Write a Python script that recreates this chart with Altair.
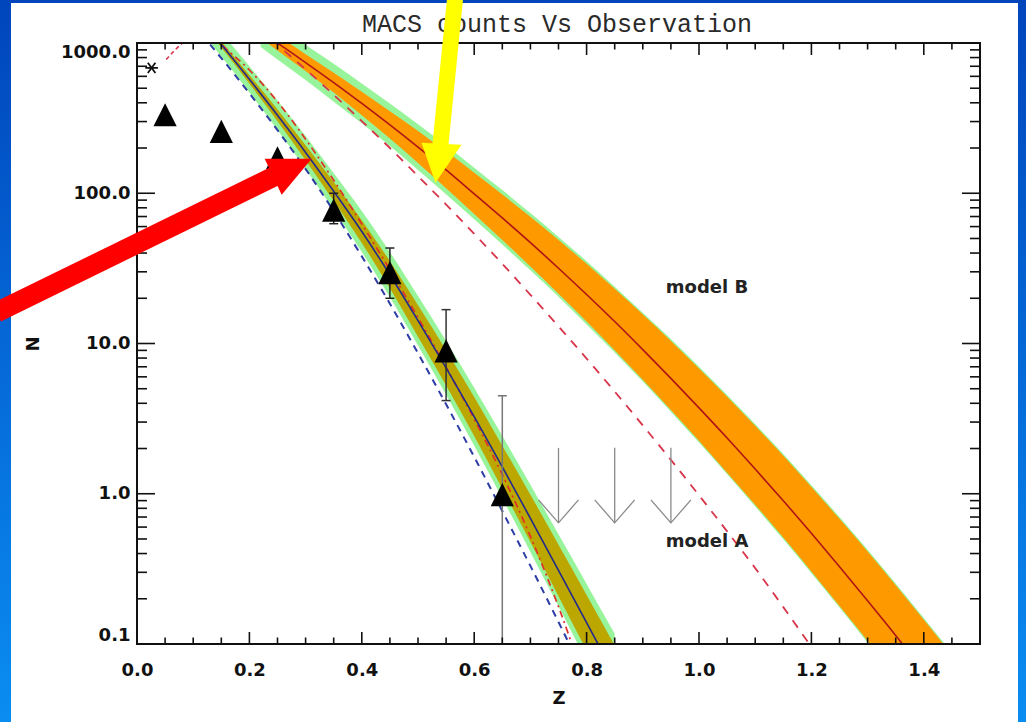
import altair as alt
import pandas as pd

# ---------------- data ----------------
# model A (lower band)
zA = [0.13, 0.15, 0.20, 0.25, 0.30, 0.35, 0.40, 0.45, 0.50, 0.55, 0.60, 0.65, 0.70, 0.75, 0.80, 0.85]
A_mid = [1202, 977, 573, 330, 187, 103, 55.6, 28.7, 14.2, 6.89, 3.26, 1.51, 0.686, 0.309, 0.139, 0.0619]
A_green_lo = [1005, 813, 468, 264, 145, 77.3, 40.6, 20.3, 9.68, 4.56, 2.09, 0.933, 0.410, 0.178, 0.0766, 0.0329]
A_green_hi = [1439, 1175, 701, 414, 240, 136, 76.2, 40.6, 20.7, 10.4, 5.08, 2.43, 1.15, 0.537, 0.251, 0.117]
A_olive_lo = [1153, 933, 536, 302, 166, 88.7, 46.7, 23.3, 11.1, 5.26, 2.42, 1.08, 0.478, 0.208, 0.0906, 0.0393]
A_olive_hi = [1253, 1023, 612, 361, 209, 119, 66.2, 35.3, 18.0, 9.02, 4.40, 2.09, 0.984, 0.458, 0.212, 0.0977]

zA2 = [0.13, 0.15, 0.20, 0.25, 0.30, 0.35, 0.40, 0.45, 0.50, 0.55, 0.60, 0.65, 0.70, 0.75, 0.80]
A_dash = [977, 794, 462, 263, 145, 75.9, 38.0, 18.4, 8.61, 3.94, 1.76, 0.767, 0.331, 0.140, 0.0582]
A_dashdot = [1148, 977, 661, 407, 229, 122, 62.4, 30.9, 14.9, 6.95, 3.14, 1.34, 0.521, 0.177, 0.0521]

# model B (upper band)
zB = [0.22, 0.25, 0.30, 0.35, 0.40, 0.45, 0.50, 0.55, 0.60, 0.65, 0.70, 0.75, 0.80,
      0.85, 0.90, 0.95, 1.00, 1.05, 1.10, 1.15, 1.20, 1.25, 1.30, 1.35, 1.40, 1.44]
B_mid = [1197, 1000, 741, 545, 396, 285, 203, 143, 99.1, 68.5, 46.9, 31.7, 21.2,
         14.0, 9.10, 5.86, 3.73, 2.35, 1.46, 0.899, 0.546, 0.327, 0.194, 0.114, 0.0659, 0.0424]
B_orange_lo = [1079, 891, 652, 468, 331, 231, 159, 108, 72.8, 48.9, 32.5, 21.4, 14.0,
               9.02, 5.74, 3.61, 2.25, 1.38, 0.845, 0.511, 0.304, 0.179, 0.105, 0.0605, 0.0347, 0.0221]
B_orange_hi = [1327, 1122, 843, 634, 474, 352, 260, 190, 137, 98.2, 69.7, 48.9, 33.9,
               23.1, 15.6, 10.4, 6.82, 4.43, 2.83, 1.79, 1.11, 0.681, 0.412, 0.246, 0.145, 0.0944]
B_green_lo = [940, 776, 568, 407, 292, 206, 143, 98.6, 67.1, 45.6, 30.7, 20.5, 13.4,
              8.71, 5.58, 3.52, 2.19, 1.35, 0.822, 0.497, 0.296, 0.175, 0.102, 0.0589, 0.0337, 0.0215]
B_green_hi = [1524, 1288, 968, 728, 538, 395, 288, 208, 148, 105, 73.8, 51.2, 35.3,
              23.9, 16.0, 10.7, 7.01, 4.55, 2.91, 1.84, 1.14, 0.700, 0.424, 0.253, 0.149, 0.097]

zB2 = [0.24, 0.25, 0.30, 0.35, 0.40, 0.45, 0.50, 0.55, 0.60, 0.65, 0.70, 0.75, 0.80,
       0.85, 0.90, 0.95, 1.00, 1.05, 1.10, 1.15, 1.20]
B_dash = [1059, 977, 668, 452, 302, 200, 130, 84.1, 53.7, 33.9, 21.1, 13.0, 7.94,
          4.79, 2.85, 1.68, 0.977, 0.562, 0.320, 0.176, 0.0955]

# short rising red dashed piece at low z
zLow = [0.052, 0.066, 0.082]
N_low = [776, 885, 1010]

# observations
obs_z = [0.05, 0.15, 0.25, 0.35, 0.45, 0.55, 0.65]
obs_N = [333, 258, 172, 77.3, 29.6, 8.93, 0.985]
err_z = [0.35, 0.45, 0.55, 0.65]
err_lo = [62.7, 20.0, 4.17, 0.05]
err_hi = [100, 43.2, 16.8, 4.49]
err_col = ["#222222", "#222222", "#333333", "#777777"]

star_z = [0.026]
star_N = [683]

lim_z = [0.75, 0.85, 0.95]
lim_top = [2.02, 2.02, 2.02]
lim_tip = [0.64, 0.64, 0.64]

labels_txt = ["model B", "model A"]
labels_z = [0.941, 0.941]
labels_N = [21.8, 0.443]

# annotation arrows (data coordinates)
red_z = [-0.25, 0.2629]
red_N = [16.1, 140]
red_tip_z, red_tip_N = [0.3108], [169.7]
yel_z = [0.5666, 0.5382]
yel_N = [2097, 180.4]
yel_tip_z, yel_tip_N = [0.5311], [117.5]

# axis ticks
x_major = [0.0, 0.2, 0.4, 0.6, 0.8, 1.0, 1.2, 1.4]
x_minor = [0.05, 0.1, 0.15, 0.25, 0.3, 0.35, 0.45, 0.5, 0.55, 0.65, 0.7, 0.75,
           0.85, 0.9, 0.95, 1.05, 1.1, 1.15, 1.25, 1.3, 1.35, 1.45]
y_major = [0.1, 1, 10, 100, 1000]
y_minor = [m * d for d in [0.1, 1, 10, 100] for m in [2, 3, 4, 5, 6, 7, 8, 9]]

# ---------------- chart ----------------
W, H = 843, 601
FONT = "DejaVu Sans"
xs = alt.Scale(domain=[0, 1.5], nice=False, zero=False)
ys = alt.Scale(type="log", domain=[0.1, 1000], nice=False)

xaxis = alt.Axis(values=x_major, format=".1f", title="Z", grid=False, ticks=False, domain=False,
                 labelFont=FONT, labelFontWeight="bold", labelFontSize=18, labelColor="#111",
                 labelPadding=17, labelFlush=False, labelOverlap=False,
                 titleFont=FONT, titleFontWeight="bold", titleFontSize=18, titleColor="#111",
                 titlePadding=10, zindex=1)
yaxis = alt.Axis(values=y_major, format=".1f", title="N", grid=False, ticks=False, domain=False,
                 labelFont=FONT, labelFontWeight="bold", labelFontSize=18, labelColor="#111",
                 labelPadding=7, labelFlush=True, labelOverlap=False,
                 titleFont=FONT, titleFontWeight="bold", titleFontSize=18, titleColor="#111",
                 titlePadding=18, zindex=1)


def X(f="z"):
    return alt.X(f"{f}:Q", scale=xs, axis=xaxis)


def Y(f="N"):
    return alt.Y(f"{f}:Q", scale=ys, axis=yaxis)


one = pd.DataFrame({"a": [0]})
layers = []

grad = alt.LinearGradient(gradient="linear",
                          stops=[alt.GradientStop(color="#0045BC", offset=0),
                                 alt.GradientStop(color="#0A8DF1", offset=1)],
                          x1=0, x2=0, y1=0, y2=1)
layers.append(alt.Chart(one).mark_rect(color=grad).encode(
    x=alt.value(-137), x2=alt.value(889), y=alt.value(-43), y2=alt.value(679)))
layers.append(alt.Chart(one).mark_rect(color="white").encode(
    x=alt.value(-126), x2=alt.value(881), y=alt.value(-40), y2=alt.value(679)))

dfA = pd.DataFrame({"z": zA, "N": A_mid, "glo": A_green_lo, "ghi": A_green_hi,
                    "olo": A_olive_lo, "ohi": A_olive_hi})
dfB = pd.DataFrame({"z": zB, "N": B_mid, "glo": B_green_lo, "ghi": B_green_hi,
                    "olo": B_orange_lo, "ohi": B_orange_hi})
dfA2 = pd.DataFrame({"z": zA2, "dash": A_dash, "dd": A_dashdot})
dfB2 = pd.DataFrame({"z": zB2, "N": B_dash})
dfLow = pd.DataFrame({"z": zLow, "N": N_low})

SM = "monotone"
GREEN = "#98F49A"
for df in (dfA, dfB):
    layers.append(alt.Chart(df).mark_area(color=GREEN, opacity=1, clip=True, interpolate=SM).encode(
        x=X(), y=Y("glo"), y2=alt.Y2("ghi")))
layers.append(alt.Chart(dfA).mark_area(color="#BBA700", opacity=1, clip=True, interpolate=SM).encode(
    x=X(), y=Y("olo"), y2=alt.Y2("ohi")))
layers.append(alt.Chart(dfB).mark_area(color="#FF9900", opacity=1, clip=True, interpolate=SM).encode(
    x=X(), y=Y("olo"), y2=alt.Y2("ohi")))

layers.append(alt.Chart(dfA2).mark_line(color="#2E3CA6", strokeWidth=2, strokeDash=[7, 6], clip=True,
                                        interpolate=SM).encode(x=X(), y=Y("dash")))
layers.append(alt.Chart(dfA2).mark_line(color="#E0302A", strokeWidth=1.7, strokeDash=[7, 4, 2, 4], clip=True,
                                        interpolate=SM).encode(x=X(), y=Y("dd")))
layers.append(alt.Chart(dfA).mark_line(color="#232A8C", strokeWidth=1.6, clip=True,
                                       interpolate=SM).encode(x=X(), y=Y()))
layers.append(alt.Chart(dfB2).mark_line(color="#D8344A", strokeWidth=1.8, strokeDash=[9, 8], clip=True,
                                        interpolate=SM).encode(x=X(), y=Y()))
layers.append(alt.Chart(dfLow).mark_line(color="#D8344A", strokeWidth=1.6, strokeDash=[4, 3], clip=True,
                                         interpolate=SM).encode(x=X(), y=Y()))
layers.append(alt.Chart(dfB).mark_line(color="#B01515", strokeWidth=1.6, clip=True,
                                       interpolate=SM).encode(x=X(), y=Y()))

# observations
dfE = pd.DataFrame({"z": err_z, "lo": err_lo, "hi": err_hi, "c": err_col})
layers.append(alt.Chart(dfE).mark_rule(strokeWidth=1.5, clip=True).encode(
    x=X(), y=Y("lo"), y2=alt.Y2("hi"), color=alt.Color("c:N", scale=None)))
for f in ("lo", "hi"):
    layers.append(alt.Chart(dfE).mark_tick(orient="horizontal", size=9, thickness=1.5, opacity=1, clip=True).encode(
        x=X(), y=Y(f), color=alt.Color("c:N", scale=None)))
dfO = pd.DataFrame({"z": obs_z, "N": obs_N})
layers.append(alt.Chart(dfO).mark_point(shape="M0,-1L1,1L-1,1Z", size=540, filled=True,
                                       color="black", opacity=1).encode(x=X(), y=Y()))
dfS = pd.DataFrame({"z": star_z, "N": star_N})
layers.append(alt.Chart(dfS).mark_point(shape="M-1,0L1,0M-0.6,-0.8L0.6,0.8M-0.6,0.8L0.6,-0.8",
                                       size=160, filled=False, color="#111", strokeWidth=1.8,
                                       opacity=1).encode(x=X(), y=Y()))

# upper limits
dfL = pd.DataFrame({"z": lim_z, "top": lim_top, "N": lim_tip})
layers.append(alt.Chart(dfL).mark_rule(color="#8a8a8a", strokeWidth=1.3).encode(
    x=X(), y=Y("top"), y2=alt.Y2("N")))
layers.append(alt.Chart(dfL).mark_point(shape="M-1,-1.15L0,0L1,-1.15", size=1600, filled=False,
                                       color="#8a8a8a", strokeWidth=1.3, opacity=1).encode(x=X(), y=Y()))

# model labels
dfT = pd.DataFrame({"z": labels_z, "N": labels_N, "t": labels_txt})
layers.append(alt.Chart(dfT).mark_text(align="left", baseline="alphabetic", font=FONT,
                                      fontWeight="bold", fontSize=18, color="#222").encode(
    x=X(), y=Y(), text="t:N"))

# frame and inward ticks
layers.append(alt.Chart(one).mark_rect(filled=False, color="#111", strokeWidth=2).encode(
    x=alt.value(0), x2=alt.value(W), y=alt.value(0), y2=alt.value(H)))
dxM = pd.DataFrame({"z": x_major})
dxm = pd.DataFrame({"z": x_minor})
dyM = pd.DataFrame({"N": y_major})
dym = pd.DataFrame({"N": y_minor})
TK = dict(color="#111", strokeWidth=1.6)
for df, ln in ((dxM, 12), (dxm, 6.5)):
    layers.append(alt.Chart(df).mark_rule(**TK).encode(x=X(), y=alt.value(H), y2=alt.value(H - ln)))
    layers.append(alt.Chart(df).mark_rule(**TK).encode(x=X(), y=alt.value(0), y2=alt.value(ln)))
for df, ln in ((dyM, 18), (dym, 10)):
    layers.append(alt.Chart(df).mark_rule(**TK).encode(y=Y(), x=alt.value(0), x2=alt.value(ln)))
    layers.append(alt.Chart(df).mark_rule(**TK).encode(y=Y(), x=alt.value(W), x2=alt.value(W - ln)))

# title
layers.append(alt.Chart(one).mark_text(text="MACS counts Vs Observation", font="Liberation Mono",
                                      fontSize=25, color="#2a2a2a", align="center",
                                      baseline="alphabetic").encode(
    x=alt.value(420), y=alt.value(-11)))

# annotation arrows
dfR = pd.DataFrame({"z": red_z, "N": red_N})
layers.append(alt.Chart(dfR).mark_line(color="#FF0000", strokeWidth=20, strokeCap="butt").encode(
    x=X(), y=Y()))
layers.append(alt.Chart(pd.DataFrame({"z": red_tip_z, "N": red_tip_N})).mark_point(
    shape="M0,0L-47,0L-30,36Z", size=4, filled=True, color="#FF0000", opacity=1).encode(x=X(), y=Y()))
dfYl = pd.DataFrame({"z": yel_z, "N": yel_N})
layers.append(alt.Chart(dfYl).mark_line(color="#FFFF00", strokeWidth=16, strokeCap="butt").encode(
    x=X(), y=Y()))
layers.append(alt.Chart(pd.DataFrame({"z": yel_tip_z, "N": yel_tip_N})).mark_point(
    shape="M0,0L-14,-40L26,-38Z", size=4, filled=True, color="#FFFF00", opacity=1).encode(x=X(), y=Y()))

chart = alt.layer(*layers).properties(
    width=W, height=H,
    padding={"left": 137, "top": 43, "right": 46, "bottom": 78},
    autosize=alt.AutoSizeParams(type="none"),
).configure_view(stroke=None)

chart.save("out.html", embed_options={"renderer": "svg", "actions": False})
